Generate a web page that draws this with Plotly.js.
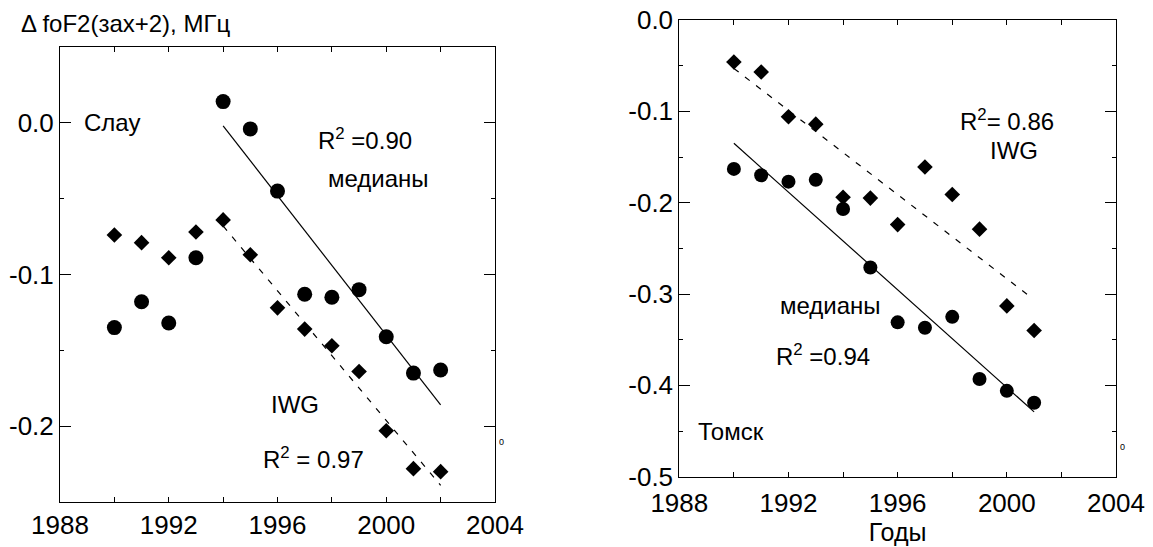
<!DOCTYPE html>
<html>
<head>
<meta charset="utf-8">
<script src="https://cdn.plot.ly/plotly-3.0.1.min.js"></script>
<style>
html,body{margin:0;padding:0;background:#fff;}
#chart{width:1153px;height:547px;}
</style>
</head>
<body>
<div id="chart"></div>
<script>
// ---- Слау (Slough) ----
const yearsSlough = [1990, 1991, 1992, 1993, 1994, 1995, 1996, 1997, 1998, 1999, 2000, 2001, 2002];
const sloughMedian = [-0.135, -0.118, -0.132, -0.089, 0.014, -0.004, -0.045, -0.113, -0.115, -0.110, -0.141, -0.165, -0.163];
const sloughIWG = [-0.074, -0.079, -0.089, -0.072, -0.064, -0.087, -0.122, -0.136, -0.147, -0.164, -0.203, -0.228, -0.230];
const sloughMedianFitX = [1994, 2002];
const sloughMedianFitY = [-0.002, -0.186];
const sloughIWGFitX = [1994, 2002];
const sloughIWGFitY = [-0.068, -0.239];

// ---- Томск (Tomsk) ----
const yearsTomsk = [1990, 1991, 1992, 1993, 1994, 1995, 1996, 1997, 1998, 1999, 2000, 2001];
const tomskMedian = [-0.163, -0.170, -0.177, -0.175, -0.207, -0.271, -0.331, -0.337, -0.325, -0.393, -0.406, -0.419];
const tomskIWG = [-0.046, -0.057, -0.106, -0.114, -0.194, -0.195, -0.224, -0.161, -0.191, -0.229, -0.313, -0.340];
const tomskMedianFitX = [1990, 2001];
const tomskMedianFitY = [-0.135, -0.429];
const tomskIWGFitX = [1990, 2000.9];
const tomskIWGFitY = [-0.053, -0.304];

// ---- tick labels ----
const xTickVals = [1988, 1992, 1996, 2000, 2004];
const xTickText = ['1988', '1992', '1996', '2000', '2004'];
const yTickValsLeft = [0.0, -0.1, -0.2];
const yTickTextLeft = ['0.0', '-0.1', '-0.2'];
const yTickValsRight = [0.0, -0.1, -0.2, -0.3, -0.4, -0.5];
const yTickTextRight = ['0.0', '-0.1', '-0.2', '-0.3', '-0.4', '-0.5'];

const FONT = 'Liberation Sans, Arial, sans-serif';
const W = 1153, H = 547;

function lineTrace(x, y, xa, ya, dash) {
  return {x: x, y: y, xaxis: xa, yaxis: ya, mode: 'lines', type: 'scatter',
    line: {color: '#000', width: 1.2, dash: dash}, hoverinfo: 'skip', showlegend: false};
}
function markerTrace(x, y, xa, ya, symbol, size) {
  return {x: x, y: y, xaxis: xa, yaxis: ya, mode: 'markers', type: 'scatter',
    marker: {symbol: symbol, size: size, color: '#000', line: {width: 0}}, showlegend: false};
}

const data = [
  lineTrace(sloughMedianFitX, sloughMedianFitY, 'x', 'y', 'solid'),
  lineTrace(sloughIWGFitX, sloughIWGFitY, 'x', 'y', '6px,8px'),
  markerTrace(yearsSlough, sloughMedian, 'x', 'y', 'circle', 15),
  markerTrace(yearsSlough, sloughIWG, 'x', 'y', 'diamond', 12),
  lineTrace(tomskMedianFitX, tomskMedianFitY, 'x2', 'y2', 'solid'),
  lineTrace(tomskIWGFitX, tomskIWGFitY, 'x2', 'y2', '6px,8px'),
  markerTrace(yearsTomsk, tomskMedian, 'x2', 'y2', 'circle', 14),
  markerTrace(yearsTomsk, tomskIWG, 'x2', 'y2', 'diamond', 12)
];

function xAxis(domain, anchor, standoff) {
  return {domain: domain, anchor: anchor, range: [1988, 2004],
    tickmode: 'array', tickvals: xTickVals, ticktext: xTickText,
    ticks: 'inside', ticklen: 5, tickwidth: 1, tickcolor: '#000',
    ticklabelstandoff: standoff,
    minor: {tickmode: 'linear', tick0: 1988, dtick: 2, ticks: 'inside', ticklen: 5, tickwidth: 1, tickcolor: '#000'},
    showline: true, linecolor: '#000', linewidth: 1, mirror: 'ticks',
    showgrid: false, zeroline: false, fixedrange: true,
    tickfont: {family: FONT, size: 26, color: '#000'}};
}
function yAxis(domain, anchor, range, vals, text) {
  return {domain: domain, anchor: anchor, range: range,
    tickmode: 'array', tickvals: vals, ticktext: text,
    ticks: 'inside', ticklen: 11, tickwidth: 1, tickcolor: '#000',
    minor: {tickmode: 'linear', tick0: 0, dtick: 0.05, ticks: 'inside', ticklen: 4, tickwidth: 1, tickcolor: '#000'},
    showline: true, linecolor: '#000', linewidth: 1, mirror: 'ticks',
    showgrid: false, zeroline: false, fixedrange: true,
    tickfont: {family: FONT, size: 26, color: '#000'}};
}

function ann(text, x, y, xref, yref, size, xanchor) {
  return {text: text, x: x, y: y, xref: xref, yref: yref, showarrow: false,
    xanchor: xanchor || 'left', yanchor: 'middle',
    font: {family: FONT, size: size || 24, color: '#000'}};
}

const layout = {
  width: W, height: H,
  margin: {l: 0, r: 0, t: 0, b: 0},
  paper_bgcolor: '#fff', plot_bgcolor: '#fff',
  showlegend: false,
  xaxis: xAxis([60 / W, 495 / W], 'y', 0),
  yaxis: yAxis([1 - 502 / H, 1 - 47 / H], 'x', [-0.25, 0.05], yTickValsLeft, yTickTextLeft),
  xaxis2: Object.assign(xAxis([679.3 / W, 1116 / W], 'y2', 3),
    {title: {text: 'Годы', font: {family: FONT, size: 25, color: '#000'}, standoff: 0}}),
  yaxis2: yAxis([1 - 476.7 / H, 1 - 20 / H], 'x2', [-0.5, 0], yTickValsRight, yTickTextRight),
  annotations: [
    ann('Δ foF2(зах+2), МГц', 19 / W, 1 - 24 / H, 'paper', 'paper', 24),
    ann('Слау', 1988.8, 0.0, 'x', 'y'),
    ann('R<sup>2</sup> =0.90', 1997.4, -0.0105, 'x', 'y'),
    ann('медианы', 1997.8, -0.037, 'x', 'y'),
    ann('IWG', 1995.68, -0.1857, 'x', 'y'),
    ann('R<sup>2</sup> = 0.97', 1995.38, -0.2213, 'x', 'y'),
    ann('0', 497 / W, 1 - 442 / H, 'paper', 'paper', 9),
    ann('R<sup>2</sup>= 0.86', 1998.22, -0.1095, 'x2', 'y2'),
    ann('IWG', 1999.32, -0.1434, 'x2', 'y2'),
    ann('медианы', 1991.6, -0.3131, 'x2', 'y2'),
    ann('R<sup>2</sup> =0.94', 1991.47, -0.3668, 'x2', 'y2'),
    ann('Томск', 1988.6, -0.45, 'x2', 'y2'),
    ann('0', 1118 / W, 1 - 447 / H, 'paper', 'paper', 9)
  ]
};

Plotly.newPlot('chart', data, layout, {staticPlot: true, displayModeBar: false});
</script>
</body>
</html>
